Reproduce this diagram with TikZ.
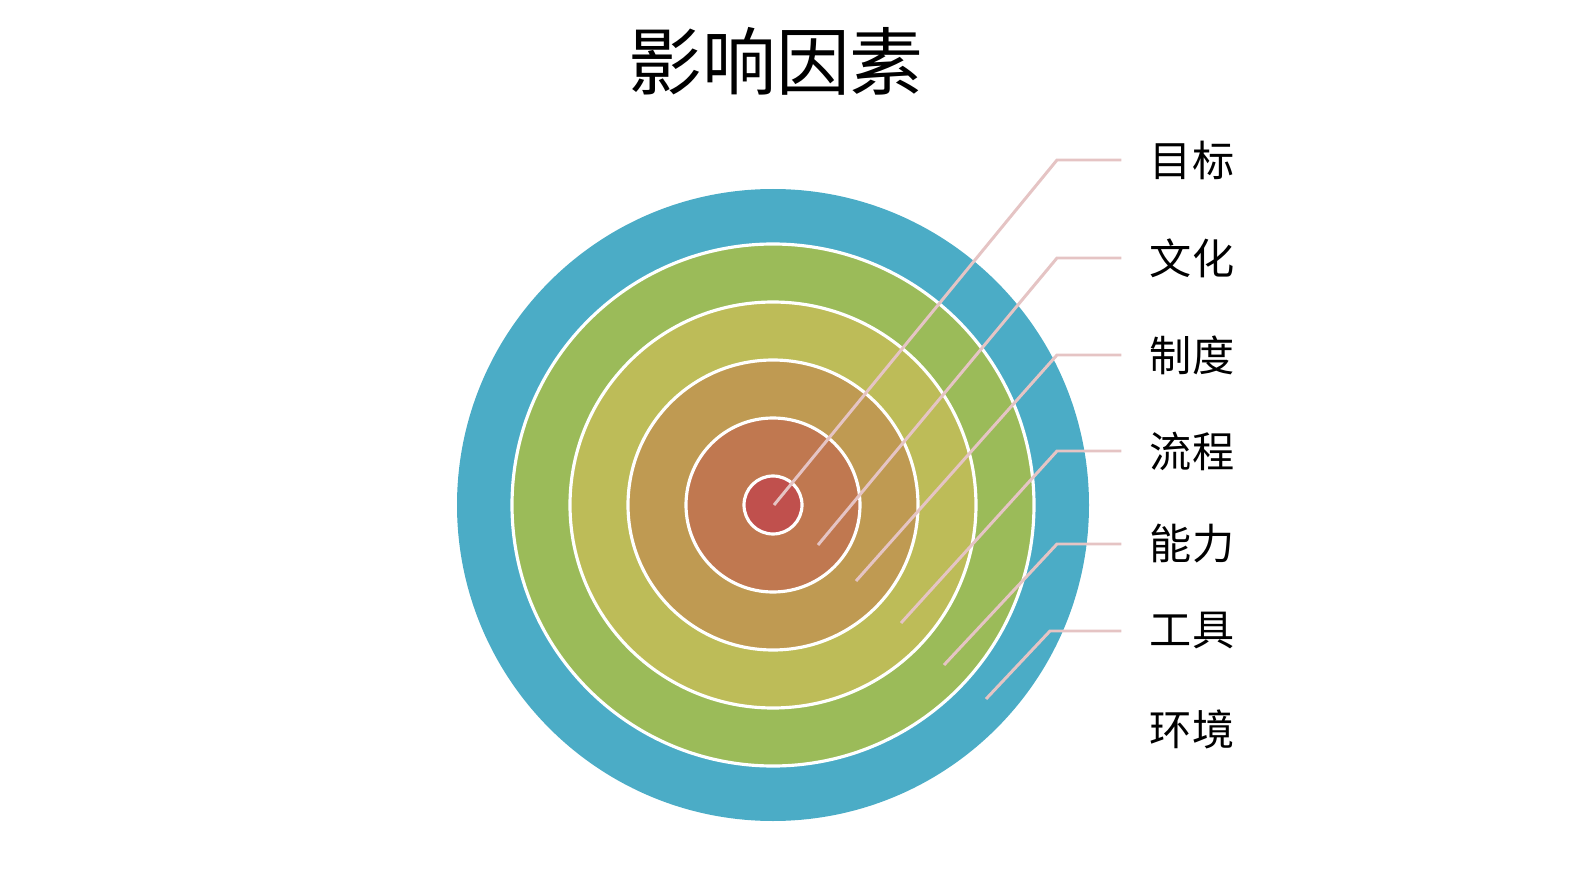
\documentclass[tikz,border=0pt]{standalone}
\usepackage{fontspec}
\usepackage{tikz}
\newfontfamily\cjk{Noto Sans CJK SC}
\definecolor{ringblue}{HTML}{4BACC6}
\definecolor{ringgreen}{HTML}{9BBB59}
\definecolor{ringyellow}{HTML}{BDBC58}
\definecolor{ringtan}{HTML}{BF9A52}
\definecolor{ringorange}{HTML}{C07850}
\definecolor{ringred}{HTML}{C0504D}
\definecolor{leadpink}{HTML}{E5C4C4}

\begin{document}
\begin{tikzpicture}[x=0.02cm,y=-0.02cm,
  ringstyle/.style={draw=white,line width=1.8pt},
  leadstyle/.style={draw=leadpink,line width=1.7pt,shorten >=16pt},
  labelstyle/.style={inner sep=0pt,font=\cjk\fontsize{24}{24}\selectfont}]
 \useasboundingbox (0,0) rectangle (1587,892);
 \node [font=\cjk\fontsize{42}{42}\selectfont] (title) at (776,61) {影响因素};

 \coordinate (c) at (773,505);
 \fill [ringblue] (c) circle (316);
  \foreach \r/\col in {261/ringgreen,203/ringyellow,145/ringtan,87/ringorange,29/ringred}
    \draw [ringstyle,fill=\col] (c) circle (\r);

  \foreach \i/\y/\txt in {1/160/目标,2/258/文化,3/355/制度,4/451/流程,5/544/能力,6/631/工具,7/729/环境}
     \node [labelstyle] (t\i) at (1192,\y) {\txt};

  \foreach \i/\px/\py/\kx in {1/774/505/1057,2/818/545/1057,3/856/581/1057,4/901/623/1057,5/944/665/1057,6/986/699/1050}
     {\coordinate (p\i) at (\px,\py);
      \coordinate (k\i) at (\kx,0 |- t\i);
      \draw [leadstyle] (p\i) -- (k\i) -- (t\i.west);}
\end{tikzpicture}
\end{document}
